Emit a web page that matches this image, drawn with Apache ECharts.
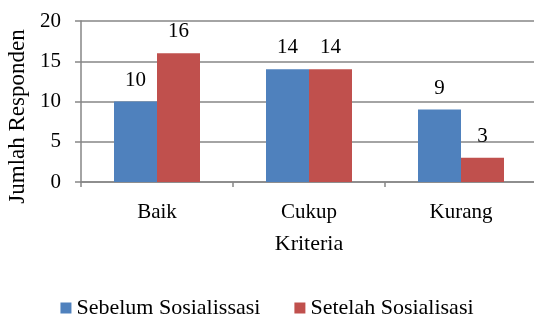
<!DOCTYPE html>
<html>
<head>
<meta charset="utf-8">
<script src="https://cdn.jsdelivr.net/npm/echarts@6/dist/echarts.min.js"></script>
<style>
  html, body { margin: 0; padding: 0; background: #fff; }
  #chart { width: 534px; height: 320px; }
</style>
</head>
<body>
<div id="chart"></div>
<script>
// Respondents per criterion, before and after the socialisation session
const categories = ['Baik', 'Cukup', 'Kurang'];
const sebelum = [10, 14, 9];
const setelah = [16, 14, 3];
const seriesNames = ['Sebelum Sosialissasi', 'Setelah Sosialisasi'];

const FONT = 'Liberation Serif';
const axisGray = '#868686';

const chart = echarts.init(document.getElementById('chart'));
const labelStyle = {
  show: true,
  position: 'top',
  distance: 11,
  color: '#000',
  fontFamily: FONT,
  fontSize: 21
};
chart.setOption({
  animation: false,
  textStyle: { fontFamily: FONT, color: '#000' },
  grid: {
    left: 81, top: 21, width: 456, height: 161,
    containLabel: false,
    outerBoundsMode: 'none'
  },
  legend: {
    top: 292,
    left: 'center',
    itemWidth: 11,
    itemHeight: 11,
    itemGap: 34,
    icon: 'rect',
    textStyle: { fontFamily: FONT, fontSize: 22, color: '#000' },
    data: seriesNames
  },
  xAxis: {
    type: 'category',
    data: categories,
    name: 'Kriteria',
    nameLocation: 'middle',
    nameGap: 51,
    nameTextStyle: { fontFamily: FONT, fontSize: 22, color: '#000' },
    axisLine: { lineStyle: { color: axisGray, width: 1.5 } },
    axisTick: { show: true, length: 5, alignWithLabel: false, lineStyle: { color: axisGray, width: 1.5 } },
    axisLabel: { fontFamily: FONT, fontSize: 21, color: '#000', margin: 20 }
  },
  yAxis: {
    type: 'value',
    min: 0,
    max: 20,
    interval: 5,
    name: 'Jumlah Responden',
    nameLocation: 'middle',
    nameGap: 51,
    nameRotate: 90,
    nameTextStyle: { fontFamily: FONT, fontSize: 23, color: '#000', padding: [0, 30, 0, 0] },
    axisLine: { show: true, lineStyle: { color: axisGray, width: 1.5 } },
    axisTick: { show: true, length: 6, lineStyle: { color: axisGray, width: 1.5 } },
    axisLabel: { fontFamily: FONT, fontSize: 21, color: '#000', margin: 20 },
    splitLine: { show: true, lineStyle: { color: axisGray, width: 1.5 } }
  },
  series: [
    {
      name: seriesNames[0],
      type: 'bar',
      data: sebelum,
      barWidth: 43,
      barGap: '0%',
      itemStyle: { color: '#4F81BD' },
      label: labelStyle
    },
    {
      name: seriesNames[1],
      type: 'bar',
      data: setelah,
      barWidth: 43,
      barGap: '0%',
      itemStyle: { color: '#C0504D' },
      label: labelStyle
    }
  ]
});
</script>
</body>
</html>
